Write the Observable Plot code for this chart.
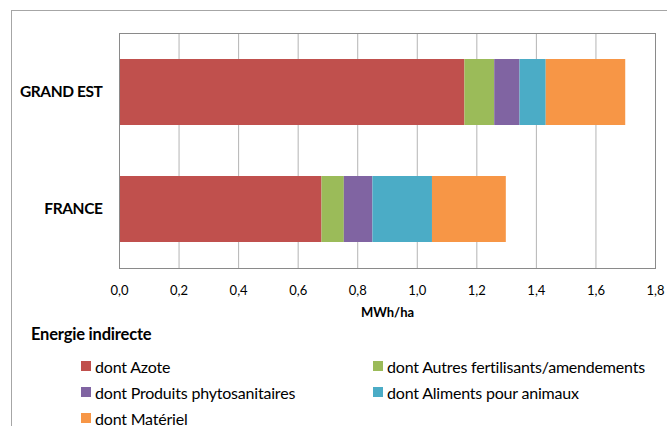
<!DOCTYPE html>
<html>
<head>
<meta charset="utf-8">
<script src="https://cdn.jsdelivr.net/npm/d3@7"></script>
<script src="https://cdn.jsdelivr.net/npm/@observablehq/plot@0.6"></script>
<style>
  html, body { margin: 0; padding: 0; background: #fff; overflow: hidden; }
  body { width: 667px; height: 426px; position: relative; font-family: Lato, "Open Sans", sans-serif; color: #000; }
  #frame { position: absolute; left: 11px; top: 10px; width: 800px; height: 600px; border: 1px solid #a6a6a6; box-sizing: border-box; }
  #chart { position: absolute; left: 0; top: 0; }
  #legend-title { position: absolute; left: 31px; top: 325px; font-weight: bold; font-size: 16.5px; line-height: 18px; letter-spacing: -0.2px; }
  #legend { position: absolute; left: 81px; top: 353px; display: grid; grid-template-columns: 292px auto; grid-auto-rows: 26px; font-size: 16px; }
  .item { display: flex; align-items: center; white-space: nowrap; letter-spacing: -0.2px; }
  .swatch { width: 10px; height: 10px; margin-right: 4px; flex: none; }
</style>
</head>
<body>
<div id="frame"></div>
<div id="chart"></div>
<div id="legend-title">Energie indirecte</div>
<div id="legend"></div>
<script>
// Indirect energy consumption per hectare, by input category (MWh/ha)
const regions = ["GRAND EST", "FRANCE"];
const series = [
  "dont Azote",
  "dont Autres fertilisants/amendements",
  "dont Produits phytosanitaires",
  "dont Aliments pour animaux",
  "dont Matériel"
];
const azote = [1.16, 0.68];
const autresFertilisants = [0.10, 0.075];
const produitsPhyto = [0.085, 0.096];
const alimentsAnimaux = [0.088, 0.20];
const materiel = [0.267, 0.248];
const xTicks = [0, 0.2, 0.4, 0.6, 0.8, 1.0, 1.2, 1.4, 1.6, 1.8];
const colors = ["#C0504D", "#9BBB59", "#8064A2", "#4BACC6", "#F79646"];

const valuesBySeries = [azote, autresFertilisants, produitsPhyto, alimentsAnimaux, materiel];
const rows = [];
series.forEach((s, i) => {
  regions.forEach((r, j) => rows.push({region: r, serie: s, value: valuesBySeries[i][j]}));
});

const fmt = d => d3.format(".1f")(d).replace(".", ",");

const chart = Plot.plot({
  width: 667,
  height: 320,
  marginLeft: 119,
  marginRight: 12,
  marginTop: 33,
  marginBottom: 52,
  style: {fontFamily: "Lato, 'Open Sans', sans-serif", color: "#000", background: "transparent"},
  x: {domain: [0, 1.8]},
  y: {domain: regions, paddingInner: 0.44, paddingOuter: 0.22},
  color: {domain: series, range: colors},
  marks: [
    Plot.ruleX(xTicks, {stroke: "#b4b4b4", strokeWidth: 1}),
    Plot.barX(rows, Plot.stackX({x: "value", y: "region", fill: "serie", order: null})),
    Plot.frame({stroke: "#8a8a8a", strokeWidth: 1}),
    Plot.axisX({ticks: xTicks, tickFormat: fmt, tickSize: 0, tickPadding: 17, fontSize: 13,
      label: "MWh/ha", labelAnchor: "center", labelArrow: "none", labelOffset: 48}),
    Plot.axisY({tickSize: 0, tickPadding: 17, fontSize: 15.5, fontWeight: "bold", label: null})
  ]
});
document.getElementById("chart").append(chart);
d3.select(chart).selectAll("[aria-label='x-axis label'] text").style("font-weight", "bold").style("font-size", "13px");
d3.select(chart).selectAll("[aria-label='y-axis tick label'] text").style("letter-spacing", "-0.4px");

const legend = d3.select("#legend");
series.forEach((s, i) => {
  const item = legend.append("div").attr("class", "item");
  item.append("div").attr("class", "swatch").style("background", colors[i]);
  item.append("span").text(s);
});
</script>
</body>
</html>
